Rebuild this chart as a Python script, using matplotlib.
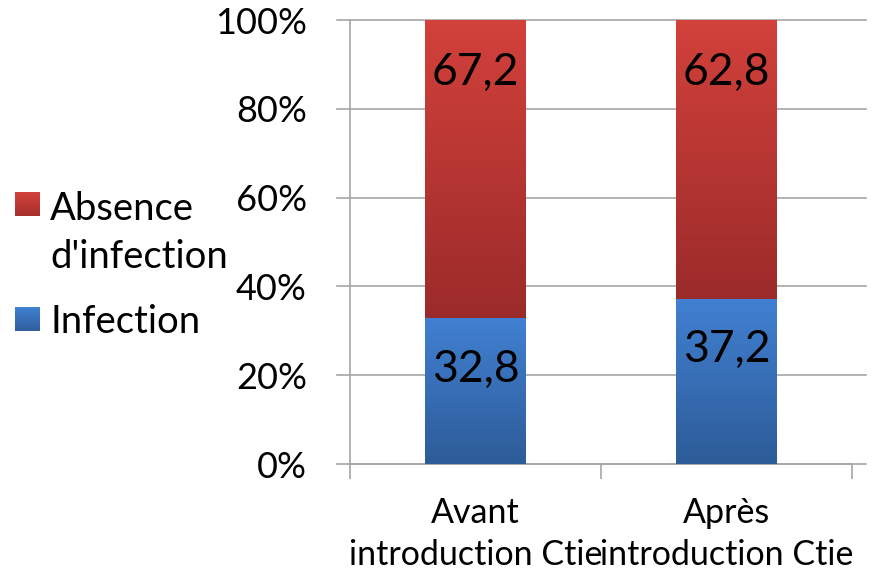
import numpy as np
import matplotlib
matplotlib.use("Agg")
import matplotlib.pyplot as plt
from matplotlib.colors import LinearSegmentedColormap
from matplotlib.patches import Rectangle

plt.rcParams['font.family'] = ['Lato', 'DejaVu Sans']

categories = ["Avant\nintroduction Ctie", "Après\nintroduction Ctie"]
infection = [32.8, 37.2]
absence = [67.2, 62.8]
series_names = ["Infection", "Absence\nd'infection"]
y_ticks = [0, 20, 40, 60, 80, 100]
y_tick_labels = ["0%", "20%", "40%", "60%", "80%", "100%"]

W, H = 876, 571
fig = plt.figure(figsize=(W / 100, H / 100), dpi=100)
ax = fig.add_axes([350 / W, (H - 464) / H, (852 - 350) / W, (464 - 20) / H])

blue_grad = LinearSegmentedColormap.from_list("blue_grad", ["#2d5c98", "#4180d2"])
red_grad = LinearSegmentedColormap.from_list("red_grad", ["#9b2b2a", "#d3413b"])
blue_grad_leg = LinearSegmentedColormap.from_list("blue_leg", ["#2f5f9e", "#4180d2"])
red_grad_leg = LinearSegmentedColormap.from_list("red_leg", ["#a8302d", "#d3413b"])

x = np.arange(len(categories))
bar_w = 0.4
ax.set_xlim(-0.5, len(categories) - 0.5)
ax.set_ylim(0, 100)

grid_col = "#a6a6a6"
tr = ax.get_yaxis_transform()
for t in y_ticks:
    ax.plot([-0.025, 1.028], [t, t], color=grid_col, lw=1.2, transform=tr,
            clip_on=False, zorder=0)


def gradient_bar(xc, bottom, height, cmap):
    bars = ax.bar(xc, height, bar_w, bottom=bottom, color="none", lw=0, zorder=2)
    rect = bars[0]
    x0, y0 = rect.get_x(), rect.get_y()
    grad = np.linspace(0, 1, 256).reshape(-1, 1)
    im = ax.imshow(grad, cmap=cmap, origin="lower", aspect="auto",
                   extent=[x0, x0 + rect.get_width(), y0, y0 + rect.get_height()],
                   zorder=2, interpolation="bicubic")
    im.set_clip_path(rect)
    return rect


for i in range(len(categories)):
    gradient_bar(x[i], 0, infection[i], blue_grad)
    gradient_bar(x[i], infection[i], absence[i], red_grad)
    ax.text(x[i], infection[i] - 11.5, f"{infection[i]:.1f}".replace(".", ","),
            ha="center", va="center", fontsize=32, color="black", zorder=3)
    ax.text(x[i], 100 - 11.8, f"{absence[i]:.1f}".replace(".", ","),
            ha="center", va="center", fontsize=32, color="black", zorder=3)

ax.set_xlim(-0.5, len(categories) - 0.5)
ax.set_ylim(0, 100)

for s in ["top", "right", "bottom"]:
    ax.spines[s].set_visible(False)
ax.spines["left"].set_color(grid_col)
ax.spines["left"].set_linewidth(1.2)

ax.set_yticks(y_ticks)
ax.set_yticklabels(y_tick_labels, fontsize=26)
ax.tick_params(axis="y", length=0, pad=31)

# category boundaries as the x axis with tick marks
ax.plot([0, 1], [0, 0], color=grid_col, lw=1.2, transform=ax.transAxes,
        clip_on=False, zorder=1)
ax.set_xticks(x)
ax.set_xticklabels(categories, fontsize=24.5, linespacing=1.36)
ax.tick_params(axis="x", length=0, pad=24)
bounds = np.arange(len(categories) + 1) - 0.5
ax.set_xticks(bounds, minor=True)
ax.tick_params(axis="x", which="minor", length=11, color=grid_col, width=1.2)

# legend, drawn in figure pixel coordinates
def fx(px):
    return px / W


def fy(py):
    return 1 - py / H


legend_items = [
    (series_names[1], red_grad_leg, 192, [220, 268]),
    (series_names[0], blue_grad_leg, 307, [333]),
]
for label, cmap, sq_top, baselines in legend_items:
    lax = fig.add_axes([fx(15), fy(sq_top + 24), fx(25), 24 / H])
    lax.imshow(np.linspace(0, 1, 64).reshape(-1, 1), cmap=cmap, origin="lower",
               aspect="auto", extent=[0, 1, 0, 1])
    lax.set_axis_off()
    for line, base in zip(label.split("\n"), baselines):
        fig.text(fx(50), fy(base), line, fontsize=27.5, va="baseline", ha="left")

fig.savefig("out.png", dpi=100)
